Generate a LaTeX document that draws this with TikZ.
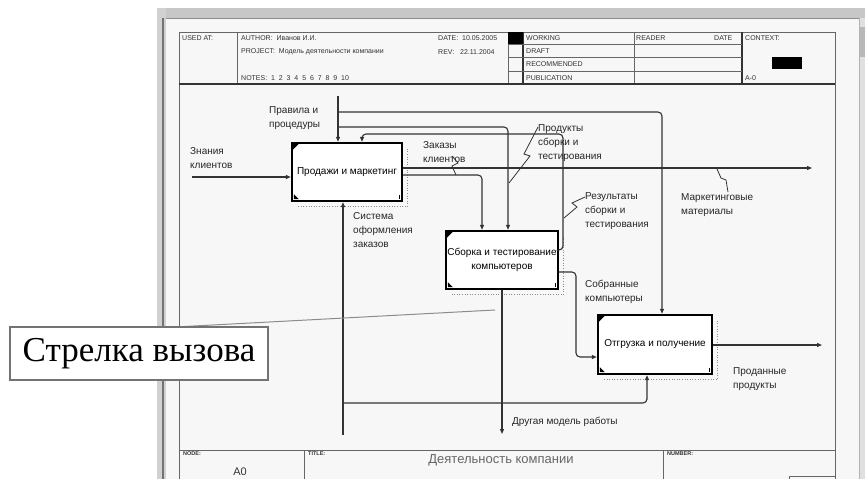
\documentclass[tikz,border=0pt]{standalone}
\usepackage{fontspec}
\setmainfont{Liberation Sans}
\newfontfamily\serifcall{Liberation Serif}
\usetikzlibrary{arrows.meta}
\begin{document}
\begin{tikzpicture}[x=1pt,y=-1pt,
  arr/.style={draw=black!80, line width=1.1pt, -{Triangle[length=5pt,width=4pt]}},
  rc/.style={rounded corners=4pt},
  fnbox/.style={draw=black, line width=2.4pt, fill=white, inner sep=0pt, align=center, font=\fontsize{10}{14}\selectfont},
  lbl/.style={anchor=north west, inner sep=0pt, align=left, font=\fontsize{10}{14}\selectfont, text=black!85},
  hdr/.style={anchor=west, inner sep=0pt, font=\fontsize{7}{7}\selectfont, text=black!80},
  ftr/.style={anchor=west, inner sep=0pt, font=\bfseries\fontsize{5.5}{6}\selectfont, text=black!80},
  squig/.style={draw=black!80, line width=0.8pt},
  thinline/.style={draw=black!60, line width=0.8pt},
]
\useasboundingbox (0,0) rectangle (865,479);
\fill[white] (0,0) rectangle (865,479);
% window chrome
\fill[black!3] (166,18) rectangle (859,479);
\fill[black!22] (157,8) rectangle (865,18);
\draw[black!45] (157,18) -- (865,18);
\fill[black!18] (157,8) rectangle (166,479);
\draw[black!55, line width=1.8pt] (163,18) -- (163,479);
\fill[black!12] (859,18) rectangle (865,479);
\draw[black!30] (859,18) -- (859,479);
\fill[black!28] (860,27) rectangle (865,57);
% frame
\draw[black!60, line width=1pt] (179,479) -- (179,32) -- (835,32) -- (835,479);
% header
\draw[thinline] (237,32) -- (237,84);
\draw[thinline] (508,32) -- (508,84);
\draw[thinline] (634,32) -- (634,84);
\draw[black!80, line width=1.3pt] (523,32) -- (523,84);
\draw[black!80, line width=1.3pt] (742,32) -- (742,84);
\draw[thinline] (508,44) -- (742,44);
\draw[thinline] (508,57) -- (742,57);
\draw[thinline] (508,71) -- (742,71);
\draw[black!80, line width=1.5pt] (179,84) -- (835,84);
\fill[black] (508,32) rectangle (523,44);
\fill[black] (772,57) rectangle (802,69);
\node[hdr] (h1) at (182,38) {USED AT:};
\node[hdr] (h2) at (241,38) {AUTHOR:\ \ Иванов И.И.};
\node[hdr] (h3) at (241,52) {PROJECT:\ \ Модель деятельности компании};
\node[hdr] (h4) at (241,78) {NOTES:\ \ 1\ \ 2\ \ 3\ \ 4\ \ 5\ \ 6\ \ 7\ \ 8\ \ 9\ \ 10};
\node[hdr] (h5) at (438,38) {DATE:\ \ 10.05.2005};
\node[hdr] (h6) at (438,52) {REV:\ \ \ 22.11.2004};
\node[hdr] (h7) at (526,38) {WORKING};
\node[hdr] (h8) at (526,51) {DRAFT};
\node[hdr] (h9) at (526,64) {RECOMMENDED};
\node[hdr] (h10) at (526,78) {PUBLICATION};
\node[hdr] (h11) at (636,38) {READER};
\node[hdr] (h12) at (714,38) {DATE};
\node[hdr] (h13) at (745,38) {CONTEXT:};
\node[hdr] (h14) at (745,78) {A-0};
% footer
\draw[black!60, line width=1pt] (179,450) -- (835,450);
\draw[black!60, line width=1pt] (304,450) -- (304,479);
\draw[black!60, line width=1pt] (663,450) -- (663,479);
\draw[black!60, line width=1pt] (789,479) -- (789,476) -- (835,476);
\node[ftr] (f1) at (183,454) {NODE:};
\node[ftr] (f2) at (308,454) {TITLE:};
\node[ftr] (f3) at (667,454) {NUMBER:};
\node[inner sep=0pt, font=\fontsize{11}{11}\selectfont, text=black!80] (f4) at (240,472) {A0};
\node[inner sep=0pt, font=\fontsize{13}{13}\selectfont, text=black!60] (f5) at (501,460) {Деятельность компании};
% function boxes
\node[fnbox, minimum width=110pt, minimum height=58pt] (sales) at (347,172) {Продажи и маркетинг};
\node[fnbox, minimum width=112pt, minimum height=58pt] (asm) at (502,260) {Сборка и тестирование\\компьютеров};
\node[fnbox, minimum width=114pt, minimum height=59pt] (ship) at (655,344.5) {Отгрузка и получение};
\foreach \n in {sales,asm,ship}{
  \fill ([shift={(2,2)}]\n.north west) -- ++(6,0) -- ++(-6,6) -- cycle;
  \fill ([shift={(3,-3)}]\n.south west) -- ++(0,-5) -- ++(5,5) -- cycle;
  \draw[line width=0.8pt] ([shift={(-4,-3)}]\n.south east) -- ++(0,-4);
  \draw[black!45, line width=1.4pt, dash pattern=on 1pt off 1.6pt] ([shift={(4.5,7)}]\n.north east) -- ([shift={(4.5,4.5)}]\n.south east) -- ([shift={(7,4.5)}]\n.south west);
}
% helper coordinates
\coordinate (xS1) at (338,0);
\coordinate (xS2) at (362,0);
\coordinate (xA1) at (482,0);
\coordinate (xA2) at (508,0);
\coordinate (xSh) at (662,0);
\coordinate (xMs) at (647,0);
\coordinate (ctop) at (338,96);
\coordinate (inS) at (192,177);
\coordinate (mkE) at (812,168);
\coordinate (yOrd) at (0,175);
\coordinate (yFb) at (0,250);
\coordinate (yAs) at (0,272);
\coordinate (yShIn) at (0,357);
\coordinate (shE) at (822,345);
\coordinate (mB) at (343,435);
\coordinate (callE) at (502,434);
% connectors
\draw[arr] (ctop) -- (ctop |- sales.north);
\draw[arr,rc] (338,112) -- (662,112) -- (xSh |- ship.north);
\draw[arr,rc] (338,127) -- (508,127) -- (xA2 |- asm.north);
\draw[arr,rc] (yFb -| asm.east) -- (563,250) -- (563,134) -- (362,134) -- (xS2 |- sales.north);
\draw[arr] (inS) -- (inS -| sales.west);
\draw[arr] (mkE -| sales.east) -- (mkE);
\draw[arr,rc] (yOrd -| sales.east) -- (482,175) -- (xA1 |- asm.north);
\draw[arr] (mB) -- (mB |- sales.south);
\draw[arr,rc] (343,403) -- (647,403) -- (xMs |- ship.south);
\draw[arr] (callE |- asm.south) -- (callE);
\draw[arr,rc] (yAs -| asm.east) -- (576,272) -- (576,357) -- (yShIn -| ship.west);
\draw[arr] (shE -| ship.east) -- (shE);
% labels
\node[lbl] (l1) at (269,106) {Правила и\\процедуры};
\node[lbl] (l2) at (190,147) {Знания\\клиентов};
\node[lbl] (l3) at (423,141) {Заказы\\клиентов};
\node[lbl] (l4) at (538,124) {Продукты\\сборки и\\тестирования};
\node[lbl] (l5) at (585,192) {Результаты\\сборки и\\тестирования};
\node[lbl] (l6) at (681,193) {Маркетинговые\\материалы};
\node[lbl] (l7) at (353,212) {Система\\оформления\\заказов};
\node[lbl] (l8) at (585,280) {Собранные\\компьютеры};
\node[lbl] (l9) at (733,367) {Проданные\\продукты};
\node[lbl] (l10) at (512,417) {Другая модель работы};
% squiggles
\draw[squig] (452,156) -- (458,163) -- (452,166) -- (456,175);
\draw[squig] (538,127) -- (524,154) -- (530,156) -- (509,183);
\draw[squig] (585,197) -- (572,203) -- (577,207) -- (564,218);
\draw[squig] (717,169) -- (721,178) -- (726,180) -- (728,192);
% callout
\coordinate (ptr) at (495,310);
\draw[black!45, line width=1pt] (175,327) -- (ptr);
\node[draw=black!55, line width=2.5pt, fill=white, minimum width=258pt, minimum height=53pt, inner sep=0pt, font=\serifcall\fontsize{35}{35}\selectfont] (callout) at (139,353.5) {Стрелка вызова};
\end{tikzpicture}
\end{document}
